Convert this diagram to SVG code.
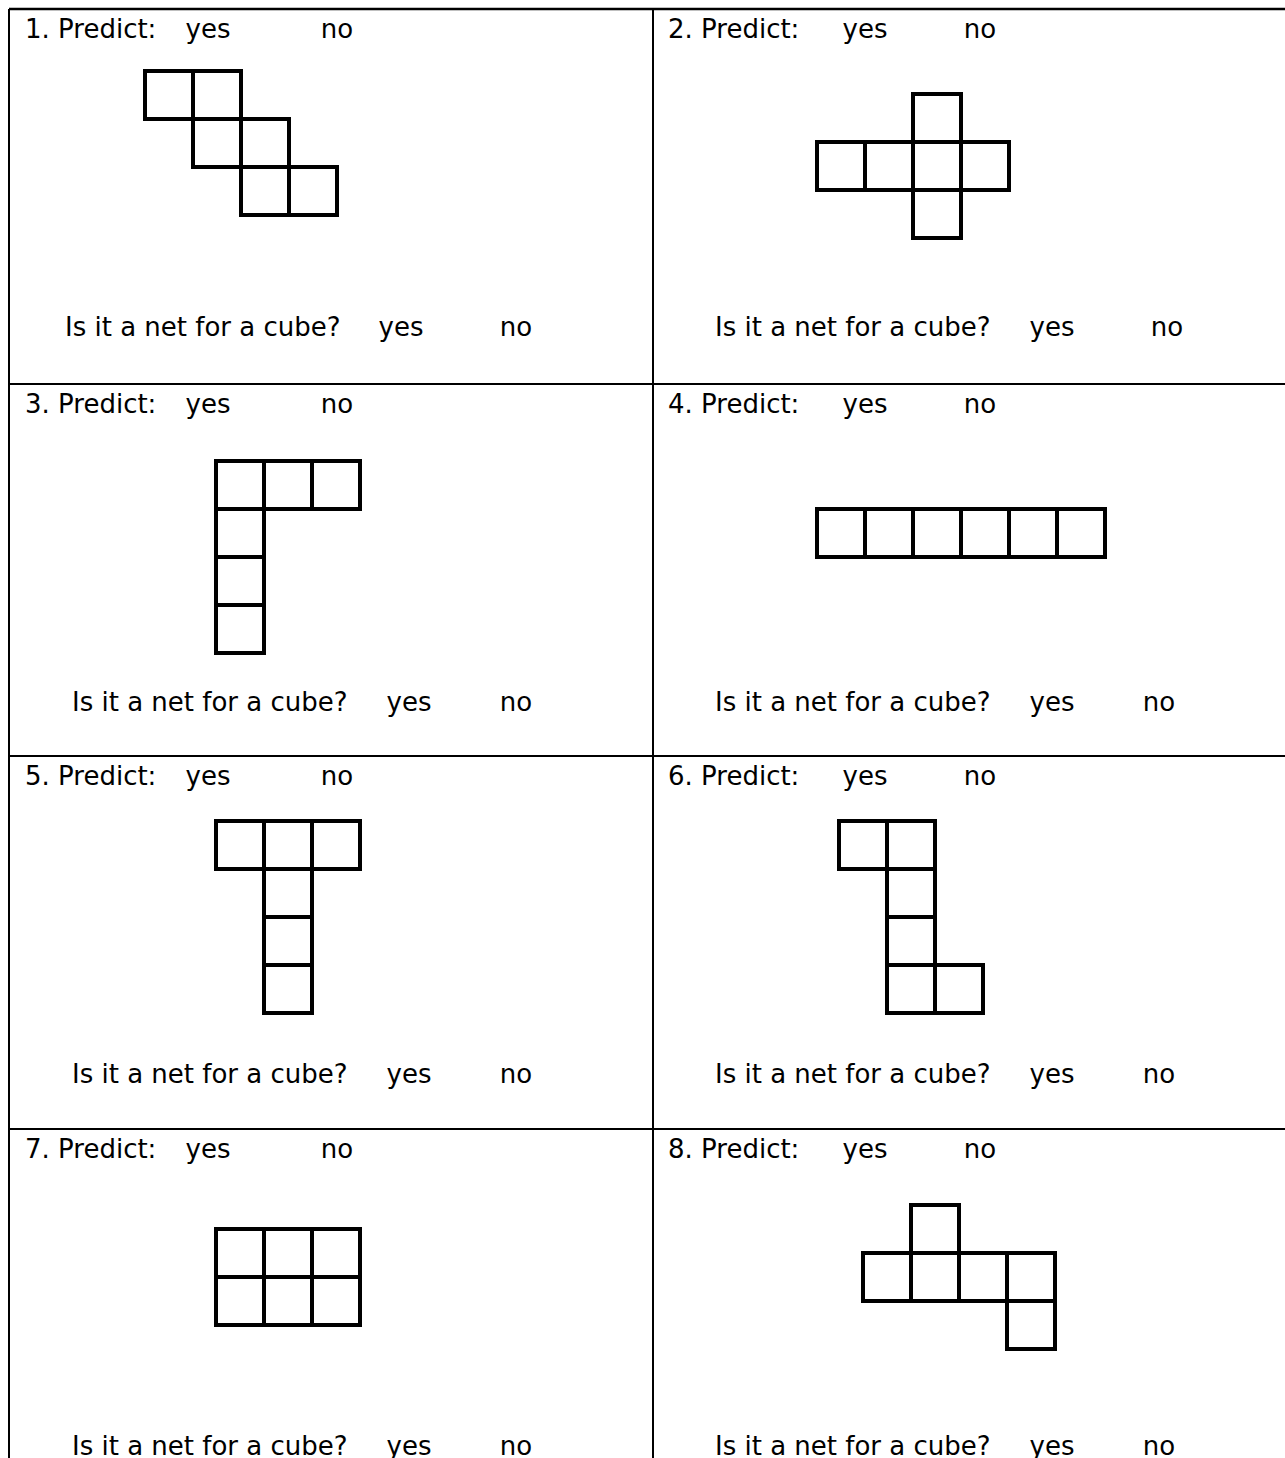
<svg xmlns="http://www.w3.org/2000/svg" width="1285" height="1458" viewBox="0 0 1285 1458">
<style>
text{font-family:"DejaVu Sans","Liberation Sans",sans-serif;font-size:26px;fill:#000}
.m{text-anchor:middle}
.grid{stroke:#000;stroke-width:2;fill:none}
.sq{stroke:#000;stroke-width:4;fill:none}
</style>
<defs>
<rect id="s" width="48" height="48" class="sq"/>
</defs>
<rect width="1285" height="1458" fill="#fff"/>
<g id="table" class="grid">
<line x1="9" y1="9" x2="1285" y2="9" stroke-width="2.5"/>
<line x1="9" y1="9" x2="9" y2="1458"/>
<line x1="653" y1="9" x2="653" y2="1458"/>
<line x1="9" y1="384" x2="1285" y2="384"/>
<line x1="9" y1="756" x2="1285" y2="756"/>
<line x1="9" y1="1129" x2="1285" y2="1129"/>
</g>
<g id="cell1">
<text x="25" y="38">1. Predict:</text><text class="m" x="208" y="38">yes</text><text class="m" x="337" y="38">no</text>
<g transform="translate(145,71)"><use href="#s" x="0" y="0"/><use href="#s" x="48" y="0"/><use href="#s" x="48" y="48"/><use href="#s" x="96" y="48"/><use href="#s" x="96" y="96"/><use href="#s" x="144" y="96"/></g>
<text x="65" y="336">Is it a net for a cube?</text><text class="m" x="401" y="336">yes</text><text class="m" x="516" y="336">no</text>
</g>
<g id="cell2">
<text x="668" y="38">2. Predict:</text><text class="m" x="865" y="38">yes</text><text class="m" x="980" y="38">no</text>
<g transform="translate(817,94)"><use href="#s" x="96" y="0"/><use href="#s" x="0" y="48"/><use href="#s" x="48" y="48"/><use href="#s" x="96" y="48"/><use href="#s" x="144" y="48"/><use href="#s" x="96" y="96"/></g>
<text x="715" y="336">Is it a net for a cube?</text><text class="m" x="1052" y="336">yes</text><text class="m" x="1167" y="336">no</text>
</g>
<g id="cell3">
<text x="25" y="413">3. Predict:</text><text class="m" x="208" y="413">yes</text><text class="m" x="337" y="413">no</text>
<g transform="translate(216,461)"><use href="#s" x="0" y="0"/><use href="#s" x="48" y="0"/><use href="#s" x="96" y="0"/><use href="#s" x="0" y="48"/><use href="#s" x="0" y="96"/><use href="#s" x="0" y="144"/></g>
<text x="72" y="711">Is it a net for a cube?</text><text class="m" x="409" y="711">yes</text><text class="m" x="516" y="711">no</text>
</g>
<g id="cell4">
<text x="668" y="413">4. Predict:</text><text class="m" x="865" y="413">yes</text><text class="m" x="980" y="413">no</text>
<g transform="translate(817,509)"><use href="#s" x="0" y="0"/><use href="#s" x="48" y="0"/><use href="#s" x="96" y="0"/><use href="#s" x="144" y="0"/><use href="#s" x="192" y="0"/><use href="#s" x="240" y="0"/></g>
<text x="715" y="711">Is it a net for a cube?</text><text class="m" x="1052" y="711">yes</text><text class="m" x="1159" y="711">no</text>
</g>
<g id="cell5">
<text x="25" y="785">5. Predict:</text><text class="m" x="208" y="785">yes</text><text class="m" x="337" y="785">no</text>
<g transform="translate(216,821)"><use href="#s" x="0" y="0"/><use href="#s" x="48" y="0"/><use href="#s" x="96" y="0"/><use href="#s" x="48" y="48"/><use href="#s" x="48" y="96"/><use href="#s" x="48" y="144"/></g>
<text x="72" y="1083">Is it a net for a cube?</text><text class="m" x="409" y="1083">yes</text><text class="m" x="516" y="1083">no</text>
</g>
<g id="cell6">
<text x="668" y="785">6. Predict:</text><text class="m" x="865" y="785">yes</text><text class="m" x="980" y="785">no</text>
<g transform="translate(839,821)"><use href="#s" x="0" y="0"/><use href="#s" x="48" y="0"/><use href="#s" x="48" y="48"/><use href="#s" x="48" y="96"/><use href="#s" x="48" y="144"/><use href="#s" x="96" y="144"/></g>
<text x="715" y="1083">Is it a net for a cube?</text><text class="m" x="1052" y="1083">yes</text><text class="m" x="1159" y="1083">no</text>
</g>
<g id="cell7">
<text x="25" y="1158">7. Predict:</text><text class="m" x="208" y="1158">yes</text><text class="m" x="337" y="1158">no</text>
<g transform="translate(216,1229)"><use href="#s" x="0" y="0"/><use href="#s" x="48" y="0"/><use href="#s" x="96" y="0"/><use href="#s" x="0" y="48"/><use href="#s" x="48" y="48"/><use href="#s" x="96" y="48"/></g>
<text x="72" y="1455">Is it a net for a cube?</text><text class="m" x="409" y="1455">yes</text><text class="m" x="516" y="1455">no</text>
</g>
<g id="cell8">
<text x="668" y="1158">8. Predict:</text><text class="m" x="865" y="1158">yes</text><text class="m" x="980" y="1158">no</text>
<g transform="translate(863,1205)"><use href="#s" x="48" y="0"/><use href="#s" x="0" y="48"/><use href="#s" x="48" y="48"/><use href="#s" x="96" y="48"/><use href="#s" x="144" y="48"/><use href="#s" x="144" y="96"/></g>
<text x="715" y="1455">Is it a net for a cube?</text><text class="m" x="1052" y="1455">yes</text><text class="m" x="1159" y="1455">no</text>
</g>
</svg>
